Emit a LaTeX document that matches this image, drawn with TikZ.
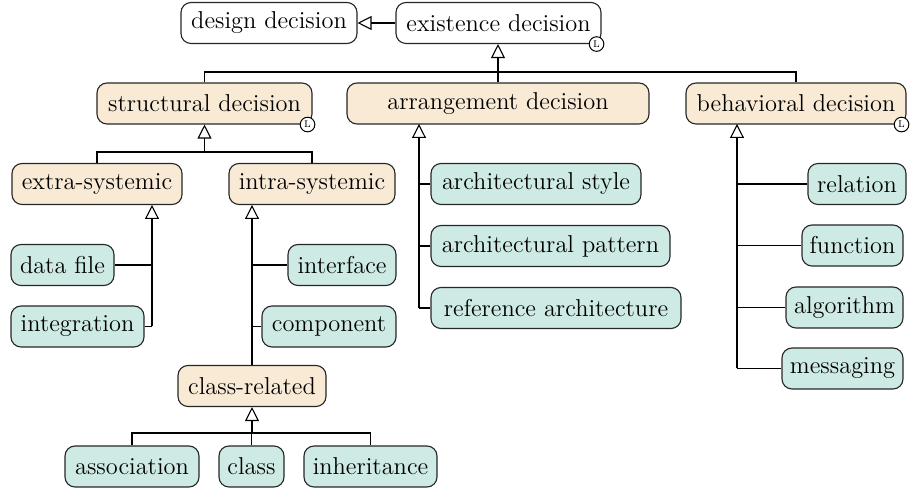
\documentclass[tikz,border=0pt]{standalone}
\usetikzlibrary{arrows.meta}
\definecolor{beige}{RGB}{248,234,212}
\definecolor{teal2}{RGB}{205,234,228}
\tikzset{
  box/.style={draw=black!85, line width=0.55pt, rounded corners=5pt, minimum height=20.5pt, inner sep=0pt,
    font=\fontsize{12.2}{14}\selectfont, align=center},
  cat/.style={box, fill=beige},
  leaf/.style={box, fill=teal2},
  plain/.style={box, fill=white},
  conn/.style={draw=black, line width=0.55pt},
  gen/.style={conn, -{Triangle[open, length=7pt, width=7pt, fill=white]}},
  lcirc/.style={circle, draw=black, line width=0.5pt, fill=white, minimum size=7.3pt, inner sep=0pt,
    font=\fontsize{6.5}{7}\selectfont}
}
\begin{document}
\begin{tikzpicture}[x=0.5pt, y=-0.5pt]
\useasboundingbox (0,0) rectangle (912,491);

% top
\node[plain, minimum width=88pt] (design) at (269,23) {design decision};
\node[plain, minimum width=102.5pt] (exist) at (498.5,23) {existence decision};

% level 1
\node[cat, minimum width=107.5pt] (struct) at (204.5,103.5) {structural decision};
\node[cat, minimum width=151pt] (arr) at (498,103.5) {arrangement decision};
\node[cat, minimum width=110pt] (beh) at (796,103.5) {behavioral decision};

% structural children
\node[cat, minimum width=85pt] (extra) at (97,184) {extra-systemic};
\node[cat, minimum width=83pt] (intra) at (312,184) {intra-systemic};

\node[leaf, minimum width=51.5pt] (datafile) at (62.5,265) {data file};
\node[leaf, minimum width=66.5pt] (integ) at (77.5,326.5) {integration};
\node[leaf, minimum width=54pt] (iface) at (342,265) {interface};
\node[leaf, minimum width=67pt] (comp) at (329,326.5) {component};
\node[cat, minimum width=74pt] (classrel) at (252,386) {class-related};
\node[leaf, minimum width=67pt] (assoc) at (132,466.5) {association};
\node[leaf, minimum width=32.5pt] (class) at (251.5,466.5) {class};
\node[leaf, minimum width=66.5pt] (inher) at (370.5,466.5) {inheritance};

% arrangement children
\node[leaf, minimum width=105pt] (astyle) at (536,184) {architectural style};
\node[leaf, minimum width=119.5pt] (apattern) at (550.5,246) {architectural pattern};
\node[leaf, minimum width=125pt] (refarch) at (556,308) {reference architecture};

% behavioral children
\node[leaf, minimum width=49pt] (rel) at (857,184) {relation};
\node[leaf, minimum width=50.5pt] (func) at (852.5,245.5) {function};
\node[leaf, minimum width=58.5pt] (algo) at (844.5,307.5) {algorithm};
\node[leaf, minimum width=60.5pt] (msg) at (842.5,368.5) {messaging};

% coordinates
\coordinate (j0) at (498,72);
\coordinate (j1) at (204.5,152);
\coordinate (extraspine) at (152,205);
\coordinate (intraspine) at (252,205);
\coordinate (j3) at (252,433);
\coordinate (arrspine) at (419,124);
\coordinate (behspine) at (737,124);

% edges
\draw[gen] (exist.west) -- (design.east);

\draw[conn] (struct.north) |- (j0) -| (beh.north);
\draw[gen] (arr.north) -- (arr.north |- exist.south);

\draw[conn] (extra.north) |- (j1) -| (intra.north);
\draw[gen] (j1) -- (struct.south);

\draw[gen] (extraspine |- integ.east) -- (extraspine);
\draw[conn] (integ.east) -| (extraspine |- integ.east);
\draw[conn] (datafile.east) -- (extraspine |- datafile.east);

\draw[gen] (intraspine |- classrel.north) -- (intraspine);
\draw[conn] (iface.west) -- (intraspine |- iface.west);
\draw[conn] (comp.west) -- (intraspine |- comp.west);

\draw[conn] (assoc.north) |- (j3) -| (inher.north);
\draw[conn] (class.north) -- (class.north |- j3);
\draw[gen] (j3) -- (classrel.south);

\draw[gen] (arrspine |- refarch.west) -- (arrspine);
\draw[conn] (refarch.west) -- (arrspine |- refarch.west);
\draw[conn] (astyle.west) -- (arrspine |- astyle.west);
\draw[conn] (apattern.west) -- (arrspine |- apattern.west);

\draw[gen] (behspine |- msg.west) -- (behspine);
\draw[conn] (msg.west) -- (behspine |- msg.west);
\draw[conn] (rel.west) -- (behspine |- rel.west);
\draw[conn] (func.west) -- (behspine |- func.west);
\draw[conn] (algo.west) -- (behspine |- algo.west);

% L markers
\node[lcirc] (lexist) at ([xshift=-2.5pt,yshift=0pt]exist.south east) {\textsc{l}};
\node[lcirc] (lstruct) at ([xshift=-2.5pt,yshift=0pt]struct.south east) {\textsc{l}};
\node[lcirc] (lbeh) at ([xshift=-2.5pt,yshift=0pt]beh.south east) {\textsc{l}};
\end{tikzpicture}
\end{document}
